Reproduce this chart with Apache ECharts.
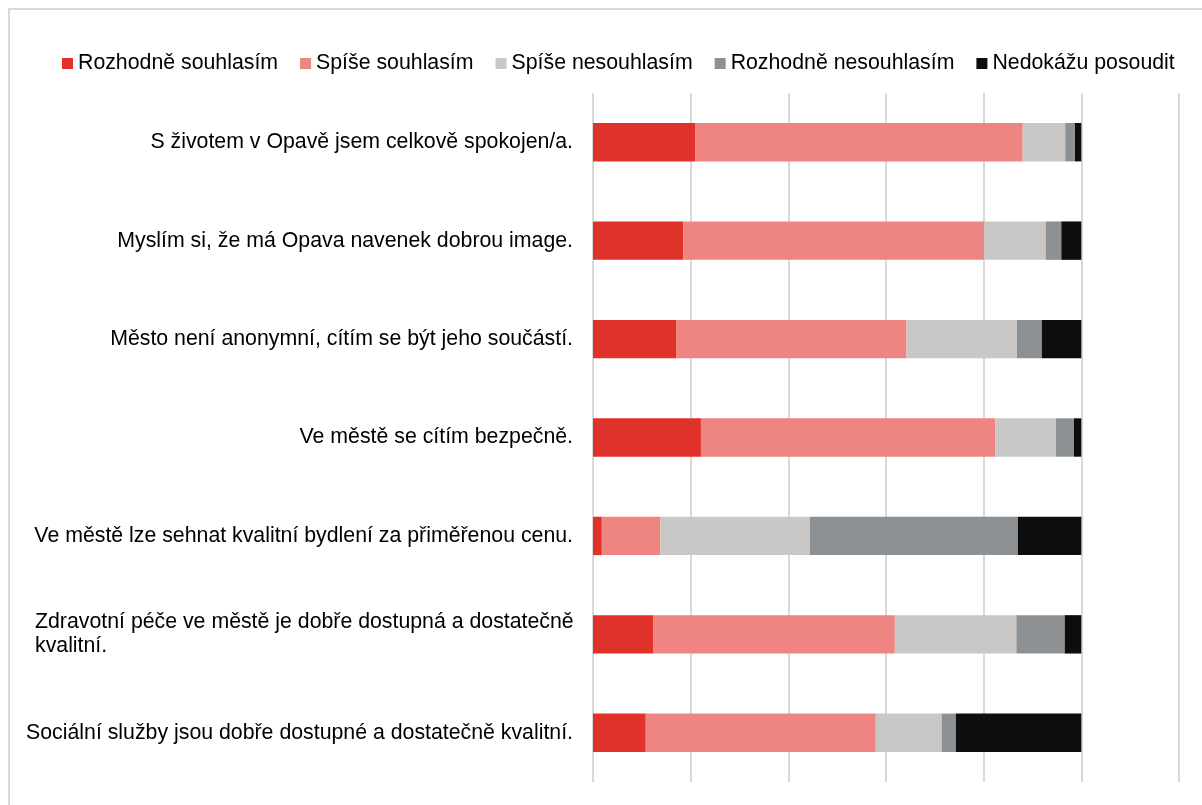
<!DOCTYPE html>
<html>
<head>
<meta charset="utf-8">
<title>Opava</title>
<script src="https://cdn.jsdelivr.net/npm/echarts@6/dist/echarts.min.js"></script>
<style>
  html, body { margin: 0; padding: 0; background: #fff; }
  #chart { width: 1202px; height: 805px; }
</style>
</head>
<body>
<div id="chart"></div>
<script>
// kategorie (shora dolů)
var categories = [
  'S životem v Opavě jsem celkově spokojen/a.',
  'Myslím si, že má Opava navenek dobrou image.',
  'Město není anonymní, cítím se být jeho součástí.',
  'Ve městě se cítím bezpečně.',
  'Ve městě lze sehnat kvalitní bydlení za přiměřenou cenu.',
  'Zdravotní péče ve městě je dobře dostupná a dostatečně\nkvalitní.',
  'Sociální služby jsou dobře dostupné a dostatečně kvalitní.'
]
var seriesNames = ['Rozhodně souhlasím', 'Spíše souhlasím', 'Spíše nesouhlasím', 'Rozhodně nesouhlasím', 'Nedokážu posoudit']
var colors = ['#E0312A', '#EE8580', '#C9C8C6', '#8D9193', '#0D0D0D']

// hodnoty v %
var rozhodneSouhlasim = [20.9, 18.5, 17.0, 22.1, 1.8, 12.4, 10.8]
var spiseSouhlasim = [67.1, 61.6, 47.2, 60.3, 12.0, 49.4, 47.1]
var spiseNesouhlasim = [8.7, 12.6, 22.6, 12.4, 30.6, 24.9, 13.5]
var rozhodneNesouhlasim = [2.0, 3.2, 5.1, 3.7, 42.6, 9.9, 2.9]
var nedokazu = [1.3, 4.1, 8.1, 1.5, 13.0, 3.4, 25.7]

var xTicks = [0, 20, 40, 60, 80, 100, 120]

;(function () {
  var myChart = echarts.init(document.getElementById('chart'))
  var values = [rozhodneSouhlasim, spiseSouhlasim, spiseNesouhlasim, rozhodneNesouhlasim, nedokazu]
  var font = '"Liberation Sans", Arial, sans-serif'
  var fs = 21.3

  var series = seriesNames.map(function (name, i) {
    return {
      name: name,
      type: 'bar',
      stack: 'total',
      data: values[i],
      barWidth: '39%',
      itemStyle: { color: colors[i] },
      emphasis: { disabled: true }
    }
  })

  var option = {
    backgroundColor: '#fff',
    animation: false,
    color: colors,
    graphic: [{
      type: 'rect',
      shape: { x: 9, y: 9, width: 1210, height: 820 },
      style: { fill: 'none', stroke: '#D9D9D9', lineWidth: 2 },
      silent: true
    }],
    legend: {
      top: 48,
      left: 57,
      icon: 'rect',
      itemWidth: 11,
      itemHeight: 11,
      itemGap: 22,
      textStyle: { fontFamily: font, fontSize: fs, color: '#000' },
      data: seriesNames
    },
    grid: {
      left: 593,
      right: 23,
      top: 93,
      bottom: 23,
      containLabel: false
    },
    xAxis: {
      type: 'value',
      min: xTicks[0],
      max: xTicks[xTicks.length - 1],
      interval: xTicks[1] - xTicks[0],
      axisLabel: { show: false },
      axisLine: { show: false },
      axisTick: { show: false },
      splitLine: { show: true, lineStyle: { color: '#D9D9D9', width: 2 } }
    },
    yAxis: {
      type: 'category',
      inverse: true,
      data: categories,
      axisLine: { show: false },
      axisTick: { show: false },
      splitLine: { show: false },
      axisLabel: {
        margin: 20,
        color: '#000',
        fontFamily: font,
        fontSize: fs,
        lineHeight: 24,
        formatter: function (val) {
          // zalomené popisky zarovnat doleva jako v Excelu
          if (val.indexOf('\n') < 0) return val
          return val.split('\n').map(function (s) { return '{w|' + s + '}' }).join('\n')
        },
        rich: {
          w: { width: 538, align: 'left', fontFamily: font, fontSize: fs, lineHeight: 24, color: '#000' }
        }
      }
    },
    series: series
  }

  myChart.setOption(option)

  window.addEventListener('resize', function () {
    myChart.resize()
  })
})();
</script>
</body>
</html>
